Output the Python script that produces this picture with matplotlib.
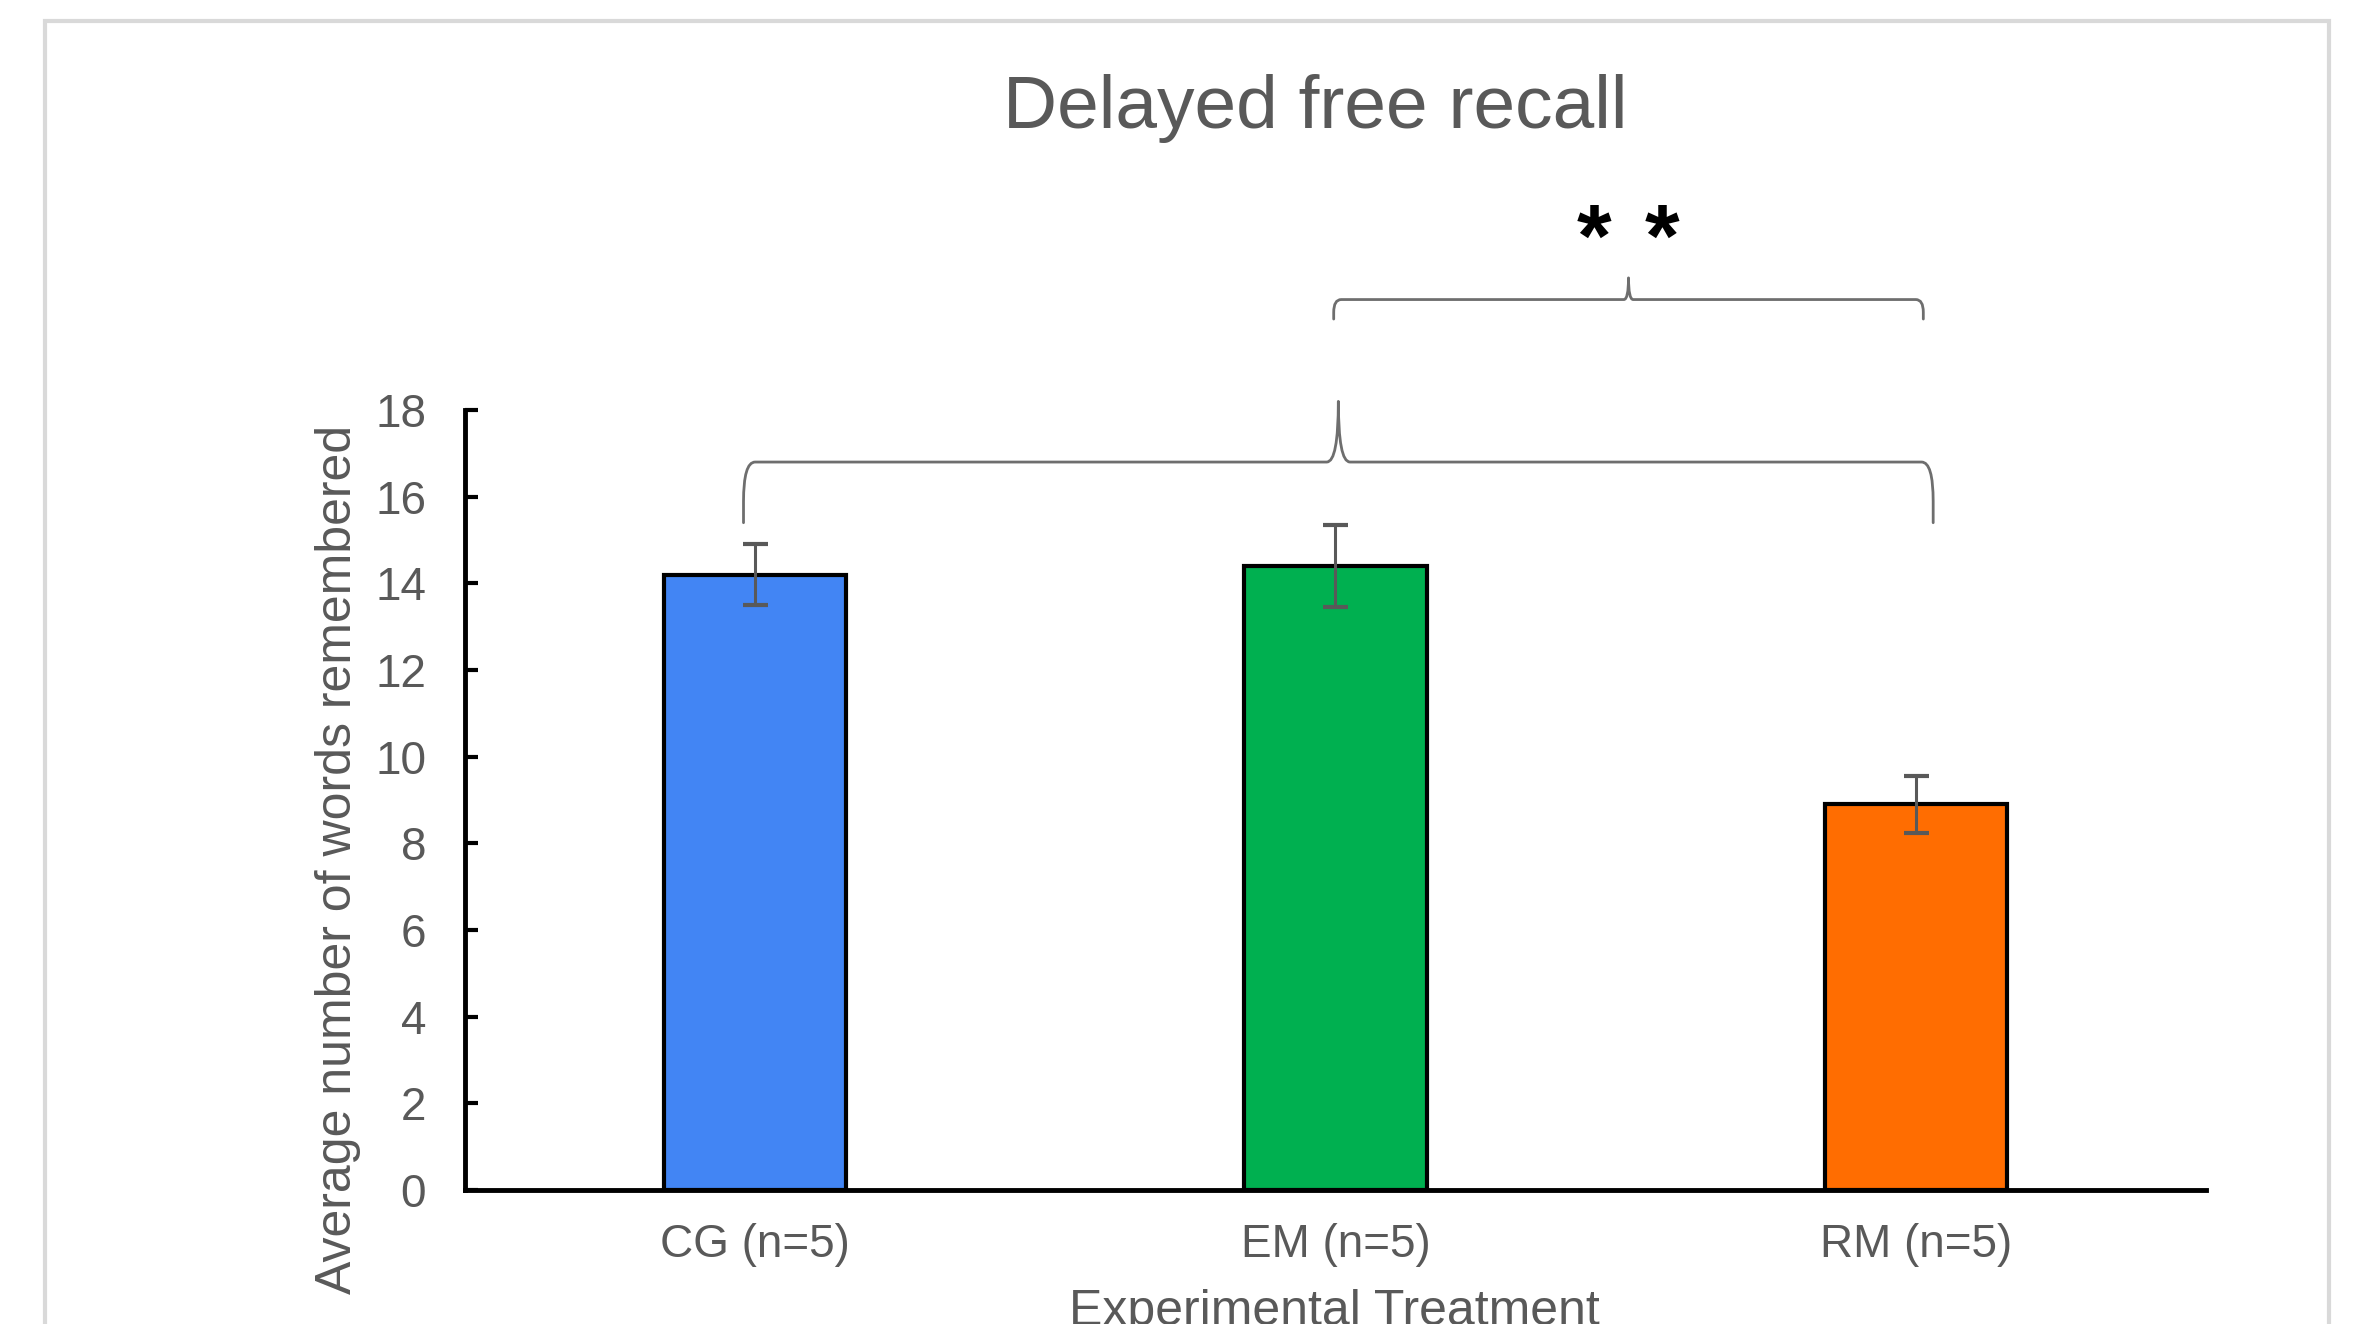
import numpy as np
import matplotlib
matplotlib.use("Agg")
import matplotlib.pyplot as plt
from matplotlib.path import Path
from matplotlib.patches import PathPatch, Rectangle

# data
groups = ["CG (n=5)", "EM (n=5)", "RM (n=5)"]
means = [14.2, 14.4, 8.9]
errors = [0.7, 0.95, 0.65]
bar_colors = ["#4285F4", "#00B050", "#FF6D01"]
y_ticks = [0, 2, 4, 6, 8, 10, 12, 14, 16, 18]

title = "Delayed free recall"
ylabel = "Average number of words remembered"
xlabel = "Experimental Treatment"

# brace between all three groups, and between EM and RM
brace_all = dict(x0=-0.02, x1=2.03, xc=1.005, y=16.8, y_end=15.4, y_tip=18.2)
brace_em_rm = dict(x0=0.997, x1=2.013, xc=1.505, y=20.55, y_end=20.1, y_tip=21.05)

plt.rcParams["font.family"] = ["Liberation Sans", "DejaVu Sans"]
grey = "#595959"


def draw_brace(ax, x0, x1, xc, y, y_end, y_tip, dxc=0.02, dxt=0.02, lw=2.0):
    ymid = y_end + 0.35 * (y - y_end)
    verts = [
        (x0, y_end), (x0, ymid),
        (x0, y), (x0 + dxc, y),
        (xc - dxt, y),
        (xc, y), (xc, y_tip),
        (xc, y), (xc + dxt, y),
        (x1 - dxc, y),
        (x1, y), (x1, ymid),
        (x1, y_end),
    ]
    codes = [Path.MOVETO, Path.LINETO,
             Path.CURVE3, Path.CURVE3,
             Path.LINETO,
             Path.CURVE3, Path.CURVE3,
             Path.CURVE3, Path.CURVE3,
             Path.LINETO,
             Path.CURVE3, Path.CURVE3,
             Path.LINETO]
    patch = PathPatch(Path(verts, codes), facecolor="none", edgecolor="#6e6e6e",
                      lw=lw, clip_on=False, capstyle="round", joinstyle="round")
    ax.add_patch(patch)


fig = plt.figure(figsize=(23.53, 13.24), dpi=100)
ax = fig.add_axes([0.1976, 0.1012, 0.7399, 0.5891])

x = np.arange(len(groups))
ax.bar(x, means, width=0.314, color=bar_colors, edgecolor="black", linewidth=3, zorder=2)
ax.errorbar(x, means, yerr=errors, fmt="none", ecolor=grey, elinewidth=2.2,
            capsize=9, capthick=3, zorder=3)

ax.set_xlim(-0.5, 2.5)
ax.set_ylim(0, 18)
ax.set_yticks(y_ticks)
ax.set_xticks(x)
ax.set_xticklabels(groups)
ax.tick_params(axis="y", direction="in", length=9, width=3, color="black",
               labelsize=33, labelcolor=grey, pad=28)
ax.tick_params(axis="x", length=0, labelsize=33, labelcolor=grey, pad=24)
for s in ["top", "right"]:
    ax.spines[s].set_visible(False)
for s in ["left", "bottom"]:
    ax.spines[s].set_linewidth(3.5)
    ax.spines[s].set_color("black")

ax.text(-0.073, 0.424, ylabel, transform=ax.transAxes, rotation=90,
        ha="center", va="center", fontsize=36, color=grey)
fig.text(0.567, 0.0265, xlabel, ha="center", va="top", fontsize=36, color=grey)
fig.text(0.559, 0.918, title, ha="center", va="center", fontsize=54, color=grey)

draw_brace(ax, **brace_all)
draw_brace(ax, **brace_em_rm, dxc=0.013, dxt=0.008)

for sx in [1.446, 1.562]:
    ax.text(sx, 21.85, "*", ha="center", va="center", fontsize=64,
            fontweight="bold", color="black", clip_on=False)

# light grey frame around the chart area
fig.patches.append(Rectangle((0.019, -0.05), 0.9708, 1.034, transform=fig.transFigure,
                             facecolor="none", edgecolor="#d9d9d9", lw=3))

fig.savefig("out.png", dpi=100)
